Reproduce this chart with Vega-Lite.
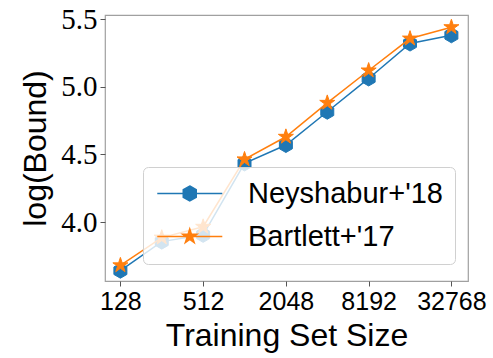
{
  "$schema": "https://vega.github.io/schema/vega-lite/v6.json",
  "width": 363,
  "height": 266,
  "autosize": {"type": "none"},
  "padding": {"left": 105, "top": 15, "right": 25, "bottom": 77},
  "background": "white",
  "config": {
    "view": {"stroke": "#a0a0a0", "strokeWidth": 1.2},
    "axis": {"grid": false, "domain": false, "tickColor": "#555555", "tickSize": 5, "labelColor": "black", "titleColor": "black", "titleFontWeight": "normal"}
  },
  "data": {
    "values": [
      {"n": 128, "series": "Neyshabur+'18", "v": 3.64},
      {"n": 256, "series": "Neyshabur+'18", "v": 3.855},
      {"n": 512, "series": "Neyshabur+'18", "v": 3.905},
      {"n": 1024, "series": "Neyshabur+'18", "v": 4.433},
      {"n": 2048, "series": "Neyshabur+'18", "v": 4.569},
      {"n": 4096, "series": "Neyshabur+'18", "v": 4.815},
      {"n": 8192, "series": "Neyshabur+'18", "v": 5.061},
      {"n": 16384, "series": "Neyshabur+'18", "v": 5.319},
      {"n": 32768, "series": "Neyshabur+'18", "v": 5.38},
      {"n": 128, "series": "Bartlett+'17", "v": 3.68},
      {"n": 256, "series": "Bartlett+'17", "v": 3.885},
      {"n": 512, "series": "Bartlett+'17", "v": 3.965},
      {"n": 1024, "series": "Bartlett+'17", "v": 4.463},
      {"n": 2048, "series": "Bartlett+'17", "v": 4.63},
      {"n": 4096, "series": "Bartlett+'17", "v": 4.881},
      {"n": 8192, "series": "Bartlett+'17", "v": 5.12},
      {"n": 16384, "series": "Bartlett+'17", "v": 5.356},
      {"n": 32768, "series": "Bartlett+'17", "v": 5.44}
    ]
  },
  "encoding": {
    "x": {
      "field": "n", "type": "quantitative",
      "scale": {"type": "log", "base": 2, "domain": [98.9, 43280], "nice": false},
      "axis": {"values": [128, 512, 2048, 8192, 32768], "format": "d", "title": "Training Set Size",
        "labelFont": "Liberation Sans", "labelFontSize": 25, "labelPadding": 3,
        "titleFont": "Liberation Sans", "titleFontSize": 32, "titlePadding": 6}
    },
    "y": {
      "field": "v", "type": "quantitative",
      "scale": {"domain": [3.564, 5.53], "nice": false, "zero": false},
      "axis": {"values": [4.0, 4.5, 5.0, 5.5], "format": ".1f", "title": "log(Bound)",
        "labelFont": "Liberation Serif", "labelFontSize": 29, "labelPadding": 3,
        "titleFont": "Liberation Sans", "titleFontSize": 32, "titlePadding": 8}
    },
    "color": {
      "field": "series", "type": "nominal",
      "scale": {"domain": ["Neyshabur+'18", "Bartlett+'17"], "range": ["#1f77b4", "#ff7f0e"]},
      "legend": {
        "title": null, "orient": "none", "legendX": 38, "legendY": 152,
        "fillColor": "rgba(255,255,255,0.8)", "strokeColor": "#d0d0d0", "cornerRadius": 5,
        "padding": 12, "rowPadding": 13, "labelOffset": 64, "labelLimit": 400,
        "labelFont": "Liberation Sans", "labelFontSize": 29, "labelColor": "black",
        "symbolSize": 225, "zindex": 1,
        "encode": {
          "symbols": {
            "update": {
              "shape": {"signal": "indexof(datum.value, 'Bart') >= 0 ? 'M-1.63,0L7.04,0M2.7,-1L2.9245,-0.309L3.6511,-0.309L3.0633,0.118L3.2878,0.809L2.7,0.382L2.1122,0.809L2.3367,0.118L1.7489,-0.309L2.4755,-0.309Z' : 'M-1.63,0L7.04,0M2.7,-1L3.566,-0.5L3.566,0.5L2.7,1L1.834,0.5L1.834,-0.5Z'"},
              "stroke": {"signal": "indexof(datum.value, 'Bart') >= 0 ? '#ff7f0e' : '#1f77b4'"},
              "fill": {"signal": "indexof(datum.value, 'Bart') >= 0 ? '#ff7f0e' : '#1f77b4'"},
              "strokeWidth": {"value": 1.5},
              "size": {"value": 225},
              "opacity": {"value": 1},
              "fillOpacity": {"value": 1},
              "strokeOpacity": {"value": 1}
            }
          }
        }
      }
    }
  },
  "layer": [
    {"transform": [{"filter": "indexof(datum.series, 'Ney') >= 0"}], "mark": {"type": "line", "strokeWidth": 1.5}},
    {"transform": [{"filter": "indexof(datum.series, 'Ney') >= 0"}], "mark": {"type": "point", "filled": true, "opacity": 1, "size": 225, "strokeWidth": 1, "stroke": "#1f77b4", "shape": "M0,-1L0.866,-0.5L0.866,0.5L0,1L-0.866,0.5L-0.866,-0.5Z"}},
    {"transform": [{"filter": "indexof(datum.series, 'Bart') >= 0"}], "mark": {"type": "line", "strokeWidth": 1.5}},
    {"transform": [{"filter": "indexof(datum.series, 'Bart') >= 0"}], "mark": {"type": "point", "filled": true, "opacity": 1, "size": 250, "strokeWidth": 1, "stroke": "#ff7f0e", "shape": "M0,-1L0.2245,-0.309L0.9511,-0.309L0.3633,0.118L0.5878,0.809L0,0.382L-0.5878,0.809L-0.3633,0.118L-0.9511,-0.309L-0.2245,-0.309Z"}}
  ]
}
